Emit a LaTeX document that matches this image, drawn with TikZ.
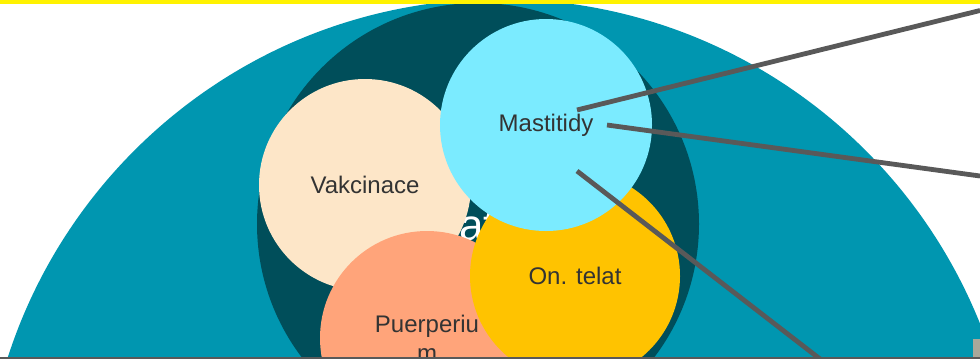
\documentclass[tikz,border=0pt]{standalone}
\usepackage{fontspec}
\setmainfont{Liberation Sans}
\definecolor{outerteal}{HTML}{0096B0}
\definecolor{innerteal}{HTML}{004E5A}
\definecolor{mastcyan}{HTML}{7BEBFF}
\definecolor{vakbeige}{HTML}{FDE6C8}
\definecolor{telatgold}{HTML}{FFC300}
\definecolor{puersalmon}{HTML}{FFA47A}
\definecolor{pointergray}{HTML}{595959}
\definecolor{labelgray}{HTML}{333333}
\definecolor{tabgray}{HTML}{A9A89A}

\tikzset{
	bubble/.style={circle, inner sep=0pt, minimum size=159pt, text=labelgray, align=center, font=\fontsize{18}{21.6}\selectfont},
	pointer/.style={draw=pointergray, line width=3.6pt},
}

\begin{document}
\begin{tikzpicture}[x=0.75pt, y=-0.75pt]
		\useasboundingbox (0,0) rectangle (980,361);
		\begin{scope}
			\clip (0,0) rectangle (980,357);
			\node[circle, inner sep=0pt, minimum size=775.5pt, fill=outerteal] (outer) at (500,516) {};
			\node[circle, inner sep=0pt, minimum size=331.5pt, fill=innerteal] (core) at (478,224) {};
			\node[anchor=base west, inner sep=0pt, text=white, font=\fontsize{33}{40}\selectfont] (hidden) at (459,240) {at};
			
			\node[bubble, fill=vakbeige] (vakc) at (365,185) {Vakcinace};
			\node[bubble, fill=puersalmon, minimum size=160.5pt] (puer) at (427,338) {Puerperiu\\m};
			\node[bubble, fill=telatgold, minimum size=157.5pt] (telat) at (575,276) {On. telat};
			\node[bubble, fill=mastcyan] (mast) at (546,125) {Mastitidy};
			
			\coordinate (m1) at (577,110);
			\coordinate (m2) at (607,125);
			\coordinate (m3) at (577,171);
			\coordinate (e1) at (980,10.5);
			\coordinate (e2) at (980,176);
			\coordinate (e3) at (820,359);
			\draw[pointer] (m1) -- (e1);
			\draw[pointer] (m2) -- (e2);
			\draw[pointer] (m3) -- (e3);
		\end{scope}
		
		\fill[yellow] (0,0) rectangle (980,3.5);
		\fill[pointergray] (0,356.5) rectangle (980,359);
		\fill[tabgray] (973,339) rectangle (980,356.5);
	\end{tikzpicture}
\end{document}
